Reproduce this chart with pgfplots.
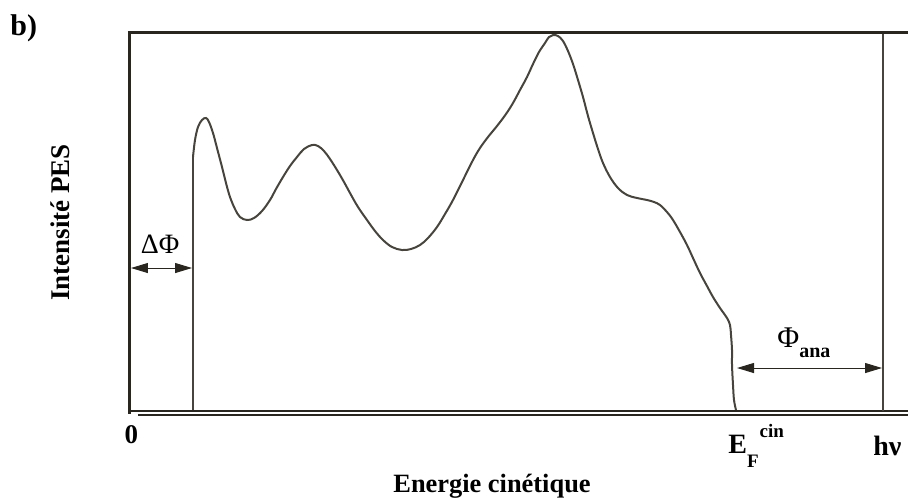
\documentclass[border=0pt]{standalone}
\usepackage{pgfplots}
\pgfplotsset{compat=1.18}
\usepackage{fontspec}
\setmainfont{Liberation Serif}
\usetikzlibrary{arrows.meta}
\definecolor{ink}{RGB}{40,38,30}
\definecolor{inkg}{RGB}{70,68,60}
\begin{document}
\begin{tikzpicture}
\begin{axis}[
  scale only axis,
  width=389.5pt, height=189pt,
  xmin=129, xmax=908, ymin=32, ymax=410,
  y dir=reverse,
  hide axis,
  clip=false,
]
% spectrum (pixel-space coordinates)
\addplot[inkg, line width=1pt] coordinates {(193,410) (193,157)};
\addplot[inkg, line width=1pt, smooth, tension=0.6] coordinates {
(193,157) (195,140) (198,127) (202,120) (206,118) (209,122) (213,133) (217,148)
(222,167) (226,183) (230,197) (235,209) (240,217) (247,220) (254,218)
(262,211) (270,200) (276,189) (283,177) (290,166) (297,157) (304,149)
(312,145) (318,146) (324,151) (330,159) (337,170) (344,182) (350,193) (358,207)
(367,220) (375,231) (383,240) (392,247) (402,250) (411,249) (420,245) (428,238)
(437,227) (445,214) (453,200) (463,180) (473,160) (480,148) (488,137) (497,126)
(506,114) (513,103) (520,90) (527,77) (533,64) (539,52) (545,43) (549,37)
(553,35) (558,36) (563,41) (568,51) (573,64) (578,80) (583,97) (588,116)
(593,133) (598,149) (603,163) (610,177) (618,188) (627,195) (637,198) (647,200)
(654,202) (660,205) (667,212) (673,220) (680,232) (687,245) (693,258) (700,273)
(707,286) (713,297) (720,308) (727,318) (730,325) (731,335) (732,350) (732,365)
(733,385) (734,400) (736,410)};
% frame
\draw[ink, line width=1.5pt] (axis cs:128,32) -- (axis cs:908,32);
\draw[ink, line width=1.5pt] (axis cs:129.5,31.3) -- (axis cs:129.5,413.5);
\draw[ink, line width=1pt] (axis cs:131,411) -- (axis cs:908,411);
\draw[ink, line width=1pt] (axis cs:138,414.5) -- (axis cs:908,414.5);
\draw[inkg, line width=1pt] (axis cs:883,34) -- (axis cs:883,411);
% arrows
\draw[ink, line width=0.5pt, {Triangle[length=8.5pt,width=5pt]}-{Triangle[length=8.5pt,width=5pt]}] (axis cs:131,268) -- (axis cs:192,268);
\draw[ink, line width=0.5pt, {Triangle[length=8.5pt,width=5pt]}-{Triangle[length=8.5pt,width=5pt]}] (axis cs:737,368) -- (axis cs:882,368);
% texts
\node[anchor=base, inner sep=0pt, font=\fontsize{14}{16}\selectfont] at (axis cs:160,253) {ΔΦ};
\node[anchor=base west, inner sep=0pt, font=\fontsize{15}{16}\selectfont] at (axis cs:777,347) {Φ\raisebox{-5pt}{\bfseries\fontsize{10}{11}\selectfont ana}};
\node[anchor=base, inner sep=0pt, font=\bfseries\fontsize{13.5}{16}\selectfont] at (axis cs:131.5,443) {0};
\node[anchor=base west, inner sep=0pt, font=\bfseries\fontsize{14}{16}\selectfont] at (axis cs:728,453) {E\raisebox{-7pt}{\fontsize{9.5}{10}\selectfont F}\hspace{0.5pt}\raisebox{8pt}{\fontsize{9.5}{10}\selectfont cin}};
\node[anchor=base west, inner sep=0pt, font=\bfseries\fontsize{14}{16}\selectfont] at (axis cs:873,455) {hν};
\node[anchor=base west, inner sep=0pt, font=\bfseries\fontsize{13.2}{16}\selectfont] at (axis cs:393,492) {Energie cinétique};
\node[anchor=base, rotate=90, inner sep=0pt, font=\bfseries\fontsize{13.5}{16}\selectfont] at (axis cs:70,222.5) {Intensité PES};
\node[anchor=base west, inner sep=0pt, font=\bfseries\fontsize{15}{18}\selectfont] at (axis cs:10,35) {b)};
\coordinate (BL) at (axis cs:0,500);
\coordinate (TR) at (axis cs:908,0);
\end{axis}
\pgfresetboundingbox
\path[use as bounding box] (BL) rectangle (TR);
\end{tikzpicture}
\end{document}
